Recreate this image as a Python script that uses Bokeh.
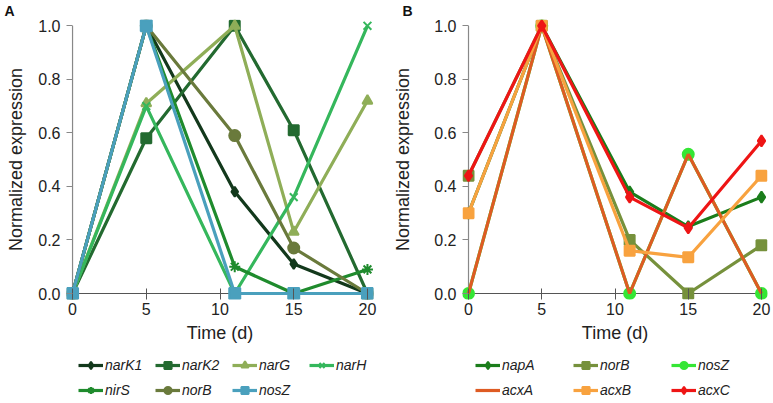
from bokeh.plotting import figure
from bokeh.layouts import row, column
from bokeh.models import Range1d, FixedTicker, Legend, LegendItem, NumeralTickFormatter
from bokeh.embed import file_html
from bokeh.resources import INLINE

# sampling days (same for both panels)
days = [0, 5, 11, 15, 20]

# panel A
narK1 = [0.0, 1.0, 0.38, 0.11, 0.0]
narK2 = [0.0, 0.58, 1.0, 0.61, 0.0]
narG = [0.0, 0.71, 1.0, 0.23, 0.72]
narH = [0.0, 0.70, 0.0, 0.36, 1.0]
nirS = [0.0, 1.0, 0.10, 0.0, 0.09]
norB_a = [0.0, 1.0, 0.59, 0.17, 0.0]
nosZ_a = [0.0, 1.0, 0.0, 0.0, 0.0]

# panel B
napA = [0.30, 1.0, 0.38, 0.25, 0.36]
norB_b = [0.44, 1.0, 0.20, 0.0, 0.18]
nosZ_b = [0.0, 1.0, 0.0, 0.52, 0.0]
acxA = [0.0, 1.0, 0.0, 0.52, 0.0]
acxB = [0.30, 1.0, 0.16, 0.135, 0.44]
acxC = [0.44, 1.0, 0.36, 0.245, 0.57]

x_ticks = [0, 5, 10, 15, 20]
y_ticks = [0.0, 0.2, 0.4, 0.6, 0.8, 1.0]

FONT = "Liberation Sans"

series_a = [
    ("narK1", narK1, "#13391c", "diamond", 10),
    ("narK2", narK2, "#236a30", "square", 10),
    ("narG", narG, "#8fae58", "triangle", 10),
    ("narH", narH, "#35b75c", "x", 11),
    ("nirS", nirS, "#1f8b2d", "asterisk", 11),
    ("norB", norB_a, "#6a7a3c", "circle", 11),
    ("nosZ", nosZ_a, "#4aa0bd", "square", 11),
]

series_b = [
    ("napA", napA, "#1b7d1b", "diamond", 11),
    ("norB", norB_b, "#76913c", "square", 10),
    ("nosZ", nosZ_b, "#35e635", "circle", 11),
    ("acxA", acxA, "#de5b23", None, 0),
    ("acxB", acxB, "#f8a23f", "square", 10),
    ("acxC", acxC, "#ee1515", "diamond", 11),
]


def draw_series(p, series):
    items = []
    for name, vals, color, marker, size in series:
        rs = [p.line(days, vals, line_color=color, line_width=3.2)]
        if marker:
            rs.append(p.scatter(days, vals, marker=marker, size=size,
                                fill_color=color, line_color=color, line_width=2))
        items.append(LegendItem(label=name, renderers=rs))
    return items


def legend_row(items, spacing, loc):
    lg = Legend(items=items, location=loc, orientation="horizontal")
    lg.label_text_font = FONT
    lg.label_text_font_size = "14px"
    lg.label_text_font_style = "italic"
    lg.label_text_color = "#222222"
    lg.label_standoff = 2
    lg.label_height = 16
    lg.label_width = 45
    lg.glyph_width = 25
    lg.glyph_height = 18
    lg.spacing = spacing
    lg.padding = 0
    lg.margin = 0
    lg.border_line_color = None
    lg.background_fill_alpha = 0
    return lg


def make_panel(letter, series, width, border_left, border_right, x_end, title_offset,
               ylabel_standoff, per_row, spacing, leg_x):
    p = figure(width=width, height=350, title=letter,
               x_range=Range1d(-0.41, x_end), y_range=Range1d(-0.0224, 1.0235),
               toolbar_location=None, output_backend="svg",
               min_border_left=border_left, min_border_right=border_right,
               min_border_top=0, min_border_bottom=51)
    p.outline_line_color = None
    p.grid.visible = False
    p.title.align = "left"
    p.title.offset = title_offset
    p.title.standoff = 1
    p.title.vertical_align = "bottom"
    p.title.text_font = FONT
    p.title.text_font_size = "14px"
    p.title.text_font_style = "bold"
    p.title.text_color = "#111111"

    # axis lines through the origin
    p.segment(x0=[0, 0], y0=[0, 0], x1=[x_ticks[-1], 0], y1=[0, y_ticks[-1]],
              line_color=["#555555", "#888888"], line_width=1.2)

    draw_series(p, series)

    xa = p.xaxis[0]
    xa.ticker = FixedTicker(ticks=x_ticks)
    xa.axis_line_color = None
    xa.major_tick_in = 11
    xa.major_tick_out = 0
    xa.minor_tick_line_color = None
    xa.major_tick_line_color = "#555555"
    xa.major_label_text_font = FONT
    xa.major_label_text_font_size = "16px"
    xa.major_label_text_color = "#222222"
    xa.major_label_standoff = 3
    xa.axis_label = "Time (d)"
    xa.axis_label_text_font = FONT
    xa.axis_label_text_font_size = "18px"
    xa.axis_label_text_font_style = "normal"
    xa.axis_label_text_color = "#222222"
    xa.axis_label_standoff = 5

    ya = p.yaxis[0]
    ya.ticker = FixedTicker(ticks=y_ticks)
    ya.formatter = NumeralTickFormatter(format="0.0")
    ya.axis_line_color = None
    ya.major_tick_in = 6
    ya.major_tick_out = 0
    ya.minor_tick_line_color = None
    ya.major_tick_line_color = "#888888"
    ya.major_label_text_font = FONT
    ya.major_label_text_font_size = "16px"
    ya.major_label_text_color = "#222222"
    ya.major_label_standoff = 6
    ya.axis_label = "Normalized expression"
    ya.axis_label_text_font = FONT
    ya.axis_label_text_font_size = "18px"
    ya.axis_label_text_font_style = "normal"
    ya.axis_label_text_color = "#222222"
    ya.axis_label_standoff = ylabel_standoff

    # legend strip: same series drawn off-range, only the legend shows
    lf = figure(width=width, height=50, x_range=Range1d(100, 101), y_range=Range1d(100, 101),
                toolbar_location=None, output_backend="svg",
                x_axis_type=None, y_axis_type=None,
                min_border_left=0, min_border_right=0, min_border_top=0, min_border_bottom=0)
    lf.outline_line_color = None
    lf.grid.visible = False
    items = draw_series(lf, series)
    lf.add_layout(legend_row(items[:per_row], spacing, (leg_x, 26)))
    lf.add_layout(legend_row(items[per_row:], spacing, (leg_x, 1)))
    return column(p, lf)


pa = make_panel("A", series_a, 388, 66, 15, 20.41, -62, 9, 4, 5, 12)
pb = make_panel("B", series_b, 385, 74, 6, 20.41, -60, 18, 3, 26, 13)

layout = row(pa, pb)
open("out.html", "w").write(file_html(layout, INLINE))
